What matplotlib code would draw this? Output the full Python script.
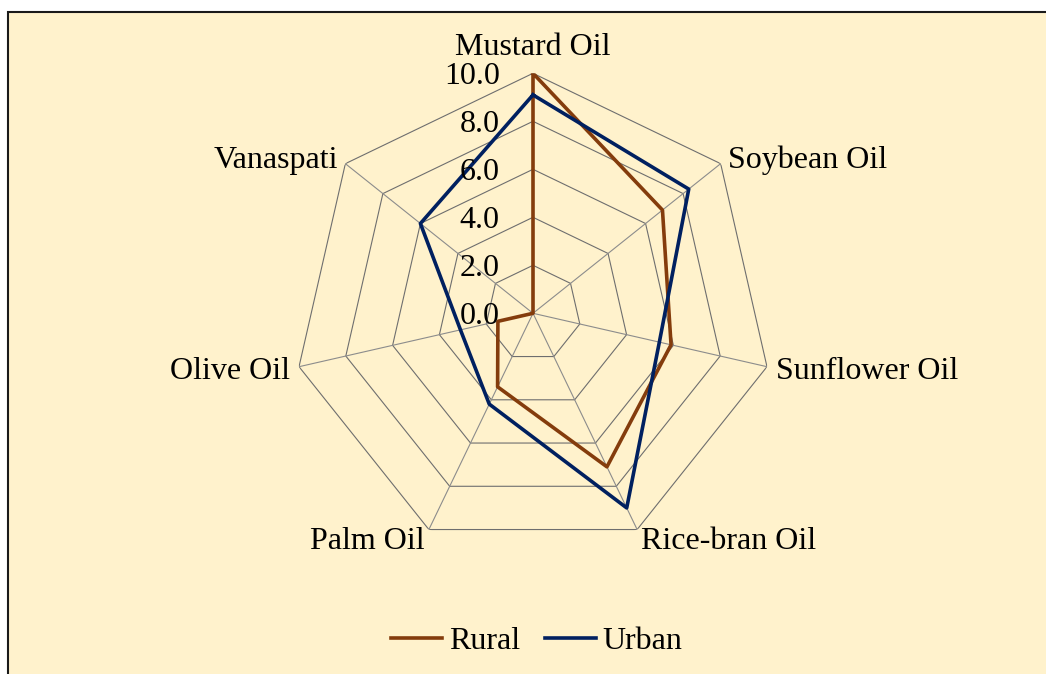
import numpy as np
import matplotlib.pyplot as plt
from matplotlib.lines import Line2D
from matplotlib.patches import Rectangle

# =========================
# data
# =========================
categories = ["Mustard Oil", "Soybean Oil", "Sunflower Oil", "Rice-bran Oil",
              "Palm Oil", "Olive Oil", "Vanaspati"]
rural = [10.0, 6.9, 5.9, 7.1, 3.4, 1.5, 0.0]
urban = [9.1, 8.3, 5.4, 9.0, 4.2, 3.1, 6.0]
ring_values = [0, 2, 4, 6, 8, 10]
ring_labels = ["0.0", "2.0", "4.0", "6.0", "8.0", "10.0"]

plt.rcParams["font.family"] = ["Liberation Serif", "DejaVu Serif"]
FS = 23
BG = "#FFF2CC"
C_RURAL = "#843C0C"
C_URBAN = "#002060"
LW = 2.6

W, H = 1046, 674
fig = plt.figure(figsize=(W / 100, H / 100), dpi=100)
fig.patch.set_facecolor("white")

# chart area (border only visible at top / left)
fig.patches.append(Rectangle((8 / W, -0.1), 1.2, (H - 12) / H + 0.1,
                             transform=fig.transFigure, facecolor=BG,
                             edgecolor="#1a1a1a", linewidth=1.5, zorder=-10))

# polar axes: centre (533, 313) px, radius 240 px
cx, cy, R = 533, 313.3, 240
ax = fig.add_axes([(cx - R) / W, (H - cy - R) / H, 2 * R / W, 2 * R / H],
                  projection="polar")
ax.set_facecolor("none")
ax.set_theta_offset(np.pi / 2)
ax.set_theta_direction(-1)
ax.set_ylim(0, 10)
ax.axis("off")

n = len(categories)
theta = np.linspace(0, 2 * np.pi, n, endpoint=False)
theta_c = np.append(theta, theta[0])

# polygon rings + spokes
for v in ring_values[1:]:
    ax.plot(theta_c, [v] * (n + 1), color="#6e6e6e", lw=0.8, zorder=1)
for t in theta:
    ax.plot([t, t], [0, 10], color="#8c8c8c", lw=0.8, zorder=1)

# series
ax.plot(theta_c, rural + rural[:1], color=C_RURAL, lw=LW, zorder=3)
ax.plot(theta_c, urban + urban[:1], color=C_URBAN, lw=LW, zorder=4)

# radial tick labels
for v, lab in zip(ring_values, ring_labels):
    ax.annotate(lab, xy=(0, v), xytext=(-24, 0), textcoords="offset points",
                ha="right", va="center_baseline", fontsize=FS, zorder=5,
                annotation_clip=False)

# category labels
for t, lab in zip(theta, categories):
    s = np.sin(t)
    if abs(s) < 1e-6:
        r, ha = 11.2, "center"
    else:
        r, ha = 10.4, ("left" if s > 0 else "right")
    ax.annotate(lab, xy=(t, r), xytext=(0, -2.2), textcoords="offset points",
                ha=ha, va="center", fontsize=FS, annotation_clip=False)

# legend
handles = [Line2D([], [], color=C_RURAL, lw=LW, label="Rural"),
           Line2D([], [], color=C_URBAN, lw=LW, label="Urban")]
fig.legend(handles=handles, loc="center", bbox_to_anchor=(537 / W, 1 - 641 / H),
           ncol=2, frameon=False, fontsize=FS, handlelength=1.6,
           handletextpad=0.22, columnspacing=0.75)

fig.savefig("out.png", dpi=100, facecolor=fig.get_facecolor())
